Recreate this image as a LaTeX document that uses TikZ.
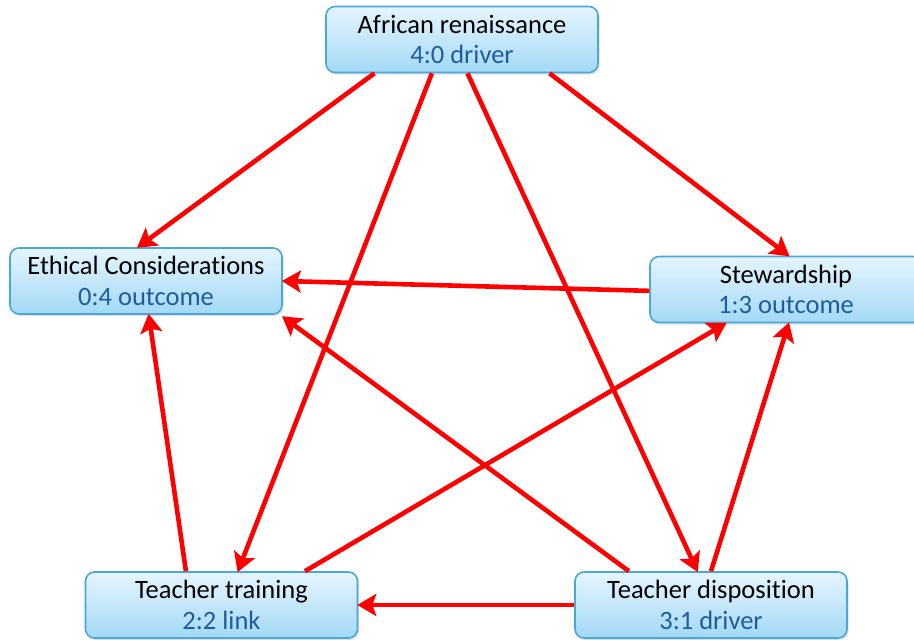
\documentclass[tikz,border=0pt]{standalone}
\usepackage{fontspec}
\setmainfont{Carlito}[Ligatures=NoCommon]
\usetikzlibrary{arrows.meta,calc,shadows}
\definecolor{boxtop}{HTML}{E6F5FE}
\definecolor{boxbot}{HTML}{A3D9F6}
\definecolor{boxline}{HTML}{4AA8D8}
\definecolor{sub}{HTML}{1F5C9E}
\definecolor{arr}{HTML}{FF0000}
\tikzset{
  box/.style={rectangle, rounded corners=9pt, draw=boxline, line width=1.6pt,
    top color=boxtop, bottom color=boxbot, minimum width=272pt, minimum height=66pt,
    align=center, inner sep=0pt, font=\fontsize{26.5}{30.5}\selectfont,
    drop shadow={opacity=0.25, shadow xshift=1.5pt, shadow yshift=-2pt}},
  link/.style={draw=arr, line width=4.6pt, -{Stealth[length=19pt,width=22pt,inset=4pt]}, shorten >=-1pt}
}
\newcommand{\subl}[1]{\textcolor{sub}{#1}}
\begin{document}
\begin{tikzpicture}[x=1pt,y=-1pt]
\useasboundingbox (0,0) rectangle (914,640);
\node[box] (afr) at (462,39.5) {African renaissance\\\subl{4:0 driver}};
\node[box] (eth) at (146,281) {Ethical Considerations\\\subl{0:4 outcome}};
\node[box] (ste) at (786,289.5) {Stewardship\\\subl{1:3 outcome}};
\node[box] (tra) at (221.5,605) {Teacher training\\\subl{2:2 link}};
\node[box] (dis) at (711,605) {Teacher disposition\\\subl{3:1 driver}};

\draw[link] ($(afr.south west)!0.18!(afr.south east)$) -- ($(eth.north west)!0.47!(eth.north east)$);
\draw[link] ($(afr.south west)!0.39!(afr.south east)$) -- ($(tra.north west)!0.56!(tra.north east)$);
\draw[link] ($(afr.south west)!0.52!(afr.south east)$) -- ($(dis.north west)!0.45!(dis.north east)$);
\draw[link] ($(afr.south west)!0.82!(afr.south east)$) -- ($(ste.north west)!0.51!(ste.north east)$);
\draw[link] ($(ste.north west)!0.52!(ste.south west)$) -- (eth.east);
\draw[link] ($(dis.north west)!0.2!(dis.north east)$) -- ($(eth.south east)+(0,2)$);
\draw[link] ($(tra.north west)!0.805!(tra.north east)$) -- ($(ste.south west)!0.28!(ste.south east)$);
\draw[link] ($(dis.north west)!0.50!(dis.north east)$) -- ($(ste.south west)!0.51!(ste.south east)$);
\draw[link] ($(tra.north west)!0.37!(tra.north east)$) -- ($(eth.south west)!0.51!(eth.south east)$);
\draw[link] (dis.west) -- (tra.east);
\end{tikzpicture}
\end{document}
